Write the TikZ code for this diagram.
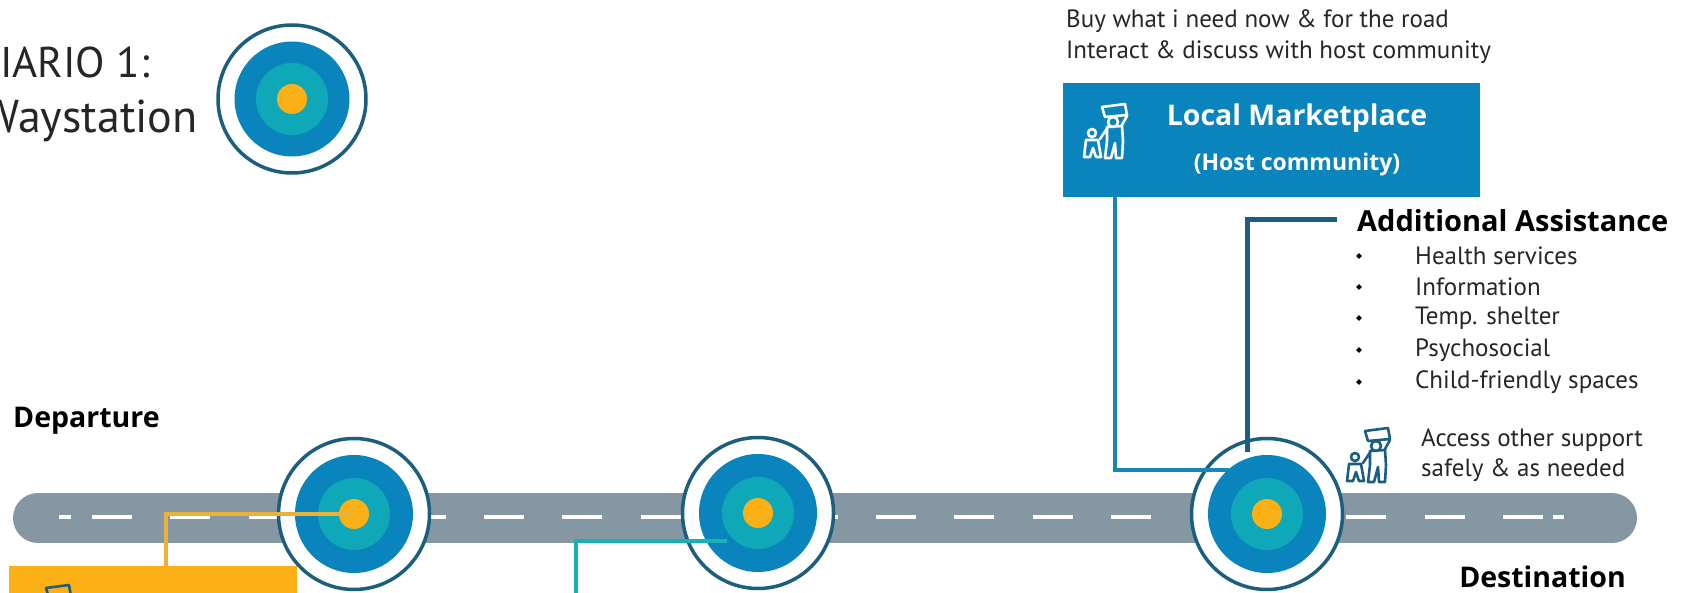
\documentclass[tikz,border=0pt]{standalone}
\usepackage{fontspec}
\usetikzlibrary{shapes.geometric}
\setmainfont{PT Sans}
\newfontfamily\headfont{Open Sans}
\definecolor{ringdark}{HTML}{1B5E7E}
\definecolor{discblue}{HTML}{0A84BC}
\definecolor{discteal}{HTML}{0FA8B8}
\definecolor{discorange}{HTML}{FBB016}
\definecolor{roadgrey}{HTML}{8497A3}
\definecolor{linkorange}{HTML}{EBB23A}
\definecolor{linkteal}{HTML}{1BB0B6}
\definecolor{linkblue}{HTML}{1A86B4}
\tikzset{
  x=1pt,y=-1pt,
  link/.style={line width=4.5pt,line join=miter},
  body/.style={font=\fontsize{25}{25}\selectfont,anchor=west,inner sep=0pt,text=black!85},
  big/.style={inner sep=0pt,text=black!85},
  head/.style={font=\headfont\fontsize{28.5}{28.5}\selectfont\bfseries,anchor=west,inner sep=0pt,text=black},
  bullet/.style={diamond,fill=black,inner sep=0pt,minimum size=6pt},
  pics/target/.style={code={
    \node[circle,draw=ringdark,line width=3.5pt,fill=white,minimum size=#1 pt,inner sep=0pt] (-ring) at (0,0) {};
    \node[circle,fill=discblue,minimum size=#1 pt - 33pt,inner sep=0pt] (-blue) at (0,0) {};
    \node[circle,fill=discteal,minimum size=72pt,inner sep=0pt] (-teal) at (0,0) {};
    \node[circle,fill=discorange,minimum size=30pt,inner sep=0pt] (-dot) at (0,0) {};
  }},
  pics/family/.style={code={
    \draw[#1,line width=2.6pt,line join=round,line cap=round]
      (-3,-26) -- (20,-29) -- (22,-18) -- (0,-16) -- cycle
      (8,-11) circle[radius=5]
      (17,-8) -- (22,-17) (3,-6) -- (-5,6)
      (2,-6) -- (17,-7) -- (18,8) -- (17,25) -- (11,25) -- (10,10) -- (6,25) -- (0,25) -- (2,8) -- cycle
      (-13,0) circle[radius=4]
      (-19,7) -- (-7,7) -- (-4,24) -- (-9,24) -- (-12,15) -- (-15,24) -- (-21,24) -- cycle;
  }}
}
\begin{document}
\begin{tikzpicture}
\useasboundingbox (0,0) rectangle (1687,593);
\node[big,font=\fontsize{43}{43}\selectfont,anchor=base west] (sc) at (0,78) {IARIO 1:};
\node[big,font=\fontsize{46}{46}\selectfont,anchor=base east] (way) at (198,133) {Waystation};
\pic (tk) at (292,99) {target=148};
\node[head] (dep) at (13,421) {Departure};
\node[head,anchor=east] (dest) at (1626,577) {Destination};
\node[body] (buy) at (1066,21) {Buy what i need now \& for the road};
\node[body] (int) at (1066,52) {Interact \& discuss with host community};
\node[fill=discblue,minimum width=417pt,minimum height=114pt,inner sep=0pt] (mkt) at (1271.5,140) {};
\node[font=\headfont\fontsize{28.5}{28.5}\selectfont\bfseries,text=white,inner sep=0pt] (mkt1) at (1297,118) {Local Marketplace};
\node[font=\headfont\fontsize{23}{23}\selectfont\bfseries,text=white,inner sep=0pt] (mkt2) at (1297,165) {(Host community)};
\pic at (1105,133) {family=white};
\node[fill=discorange,minimum width=288pt,minimum height=40pt,inner sep=0pt,anchor=north west] (ob) at (9,566) {};
\pic at (49,614) {family=ringdark};
\node[head,font=\headfont\fontsize{29}{29}\selectfont\bfseries] (add) at (1357,221) {Additional Assistance};
\foreach \yy/\tt in {256/Health services,287/Information,318/Temp. shelter,350/Psychosocial,382/Child-friendly spaces}{
  \node[bullet] at (1359,\yy) {};
  \node[body] at (1415,\yy) {\tt};
}
\node[body] (acc) at (1421,440) {Access other support};
\node[body] (saf) at (1421,470) {safely \& as needed};
\pic at (1368,457) {family=ringdark};
\draw[roadgrey,line width=50pt,line cap=round] (38,518) coordinate (rs) -- (1612,518) coordinate (re);
\foreach \k in {0,...,18}{
  \draw[white,line width=4.5pt] (92+78.4*\k,517) -- (132+78.4*\k,517);
}
\draw[white,line width=4.5pt] (59,517) -- (71,517);
\draw[white,line width=4.5pt] (1553,517) -- (1564,517);
\pic (ta) at (354,514) {target=151};
\pic (tb) at (758,513) {target=151};
\pic (tc) at (1267,514) {target=151};
\coordinate (c1) at (166,514);
\coordinate (c2) at (576,541);
\coordinate (c3) at (1115,470);
\coordinate (c4) at (1247,220);
\coordinate (e2) at (727,541);
\coordinate (e3) at (1229,470);
\coordinate (e4) at (1247,452);
\coordinate (s2) at (576,593);
\coordinate (s3) at (1115,197);
\coordinate (e5) at (1337,220);
\coordinate (s1) at (166,566);
\draw[link,linkorange] (s1) -- (c1) -- (ta-dot.center);
\draw[link,linkteal] (s2) -- (c2) -- (e2);
\draw[link,linkblue] (s3) -- (c3) -- (e3);
\draw[link,ringdark,line width=5pt] (e5) -- (c4) -- (e4);
\end{tikzpicture}
\end{document}
